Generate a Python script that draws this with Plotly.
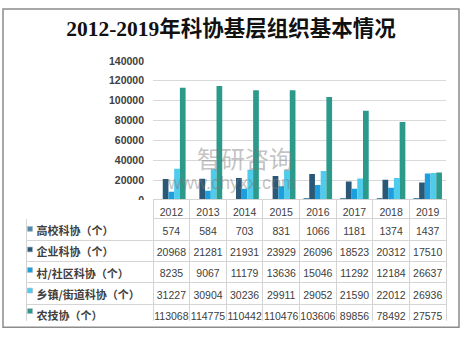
import plotly.graph_objects as go

years = ["2012", "2013", "2014", "2015", "2016", "2017", "2018", "2019"]
series_names = ["高校科协（个）", "企业科协（个）", "村/社区科协（个）", "乡镇/街道科协（个）", "农技协（个）"]
gaoxiao = [574, 584, 703, 831, 1066, 1181, 1374, 1437]
qiye = [20968, 21281, 21931, 23929, 26096, 18523, 20312, 17510]
cun = [8235, 9067, 11179, 13636, 15046, 11292, 12184, 26637]
xiangzhen = [31227, 30904, 30236, 29911, 29052, 21590, 22012, 26936]
nongji = [113068, 114775, 110442, 110476, 103606, 89856, 78492, 27575]
colors = ["#4f8aab", "#2c5877", "#1c9fdc", "#4fcbec", "#2b9a8b"]
yticks = [0, 20000, 40000, 60000, 80000, 100000, 120000, 140000]
title = "2012-2019年科协基层组织基本情况"

W, H = 462, 337
all_series = [gaoxiao, qiye, cun, xiangzhen, nongji]

def px_x(p):
    return p / W

def px_y(p):
    return 1 - p / H

TAB_TOP, HEAD_H, ROW_H = 201, 19, 21.3

fig = go.Figure()
for name, vals, c in zip(series_names, all_series, colors):
    fig.add_trace(go.Bar(x=years, y=vals, name=name, marker=dict(color=c, line=dict(width=0)),
                         showlegend=False))

# data table
label_cells = ["\u00a0" + n for n in series_names]
header_vals = [""] + years
cell_cols = [label_cells] + [[str(s[i]) for s in all_series] for i in range(len(years))]
fig.add_trace(go.Table(
    domain=dict(x=[px_x(26), px_x(446)], y=[px_y(TAB_TOP + HEAD_H + 5 * ROW_H + 1), px_y(TAB_TOP)]),
    columnwidth=[127] + [36.6] * len(years),
    header=dict(values=header_vals, height=HEAD_H,
                line=dict(color=["rgba(0,0,0,0)"] + ["#d4d4d4"] * len(years), width=[0] + [1] * len(years)),
                fill=dict(color="white"), align="center",
                font=dict(family="Liberation Sans, Arial", size=10.5, color="#404040")),
    cells=dict(values=cell_cols, height=ROW_H,
               line=dict(color="#d4d4d4", width=1),
               fill=dict(color="white"),
               align=["left"] + ["center"] * len(years),
               font=dict(family=["Noto Sans CJK SC"] + ["Liberation Sans, Arial"] * len(years),
                         size=[11] + [10.5] * len(years), color="#404040",
                         weight=["bold"] + ["normal"] * len(years))),
))

# legend keys (colored squares) in the label column
key_shapes = []
for i, c in enumerate(colors):
    yc = TAB_TOP + HEAD_H + ROW_H * (i + 0.5)
    key_shapes.append(dict(type="rect", xref="paper", yref="paper",
                           x0=px_x(27.5), x1=px_x(32.5), y0=px_y(yc + 3), y1=px_y(yc - 2),
                           fillcolor=c, line=dict(width=0.6, color="#9fb4c4")))

fig.update_layout(
    width=W, height=H,
    margin=dict(l=0, r=0, t=0, b=0),
    paper_bgcolor="white", plot_bgcolor="white",
    barmode="group", bargap=0.22, bargroupgap=0,
    title=dict(text=title, x=0.5, xanchor="center", y=px_y(28), yanchor="middle",
               font=dict(family="Liberation Serif, Noto Sans CJK SC", size=21.5, color="#111111",
                         weight="bold")),
    xaxis=dict(domain=[px_x(153), px_x(446)], showticklabels=False, showgrid=False,
               showline=False, ticks="", fixedrange=True),
    yaxis=dict(domain=[px_y(TAB_TOP), px_y(57)], range=[0, 140000], tickvals=yticks,
               ticktext=[str(v) for v in yticks],
               showgrid=True, gridcolor="#d9d9d9", gridwidth=1, zeroline=False,
               showline=False, ticks="", ticklabelstandoff=8,
               tickfont=dict(family="Liberation Sans, Arial", size=10.5, color="#404040", weight="bold")),
    shapes=[dict(type="rect", xref="paper", yref="paper",
                 x0=px_x(3), x1=px_x(459), y0=px_y(333), y1=px_y(3),
                 line=dict(color="#8c8c8c", width=1.5))] + key_shapes,
    annotations=[
        dict(text="智研咨询", xref="paper", yref="paper", x=px_x(245), y=px_y(157),
             showarrow=False, font=dict(family="Noto Sans CJK SC", size=24, color="rgba(120,120,120,0.45)")),
        dict(text="www.chyxx.com", xref="paper", yref="paper", x=px_x(231), y=px_y(184),
             showarrow=False, font=dict(family="Liberation Sans, Arial", size=18, color="rgba(120,120,120,0.45)")),
    ],
)

fig.write_html("out.html")
